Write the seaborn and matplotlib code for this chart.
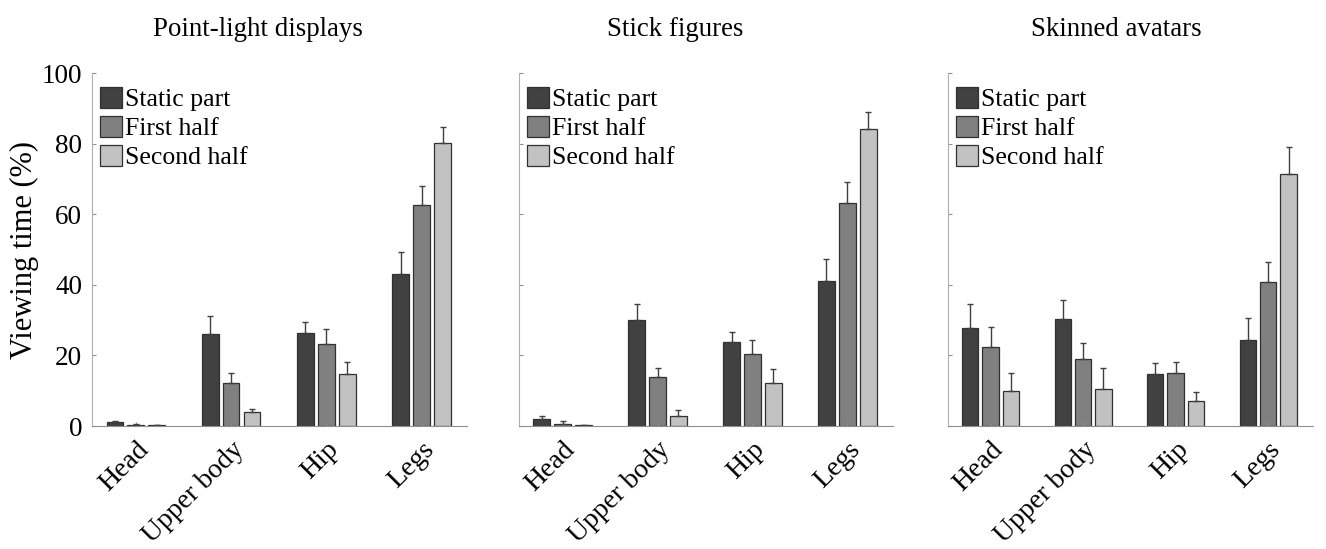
import matplotlib.pyplot as plt
import seaborn as sns
import pandas as pd

panels = ['Point-light displays', 'Stick figures', 'Skinned avatars']
parts = ['Head', 'Upper body', 'Hip', 'Legs']
phases = ['Static part', 'First half', 'Second half']

# mean viewing time (%) per panel, ordered part x phase
means_pld = [[1.1, 0.3, 0.2], [26.2, 12.2, 4.1], [26.4, 23.3, 14.8], [43.0, 62.6, 80.3]]
means_stick = [[2.1, 0.7, 0.2], [29.9, 13.9, 2.9], [23.8, 20.3, 12.2], [41.1, 63.3, 84.0]]
means_avatar = [[27.8, 22.4, 9.8], [30.4, 18.9, 10.5], [14.8, 14.9, 7.1], [24.5, 40.9, 71.5]]

# upper error bar lengths
err_pld = [[0.2, 0.2, 0.1], [4.9, 2.8, 0.8], [3.1, 4.3, 3.4], [6.2, 5.4, 4.3]]
err_stick = [[0.8, 0.6, 0.1], [4.6, 2.6, 1.5], [2.9, 4.1, 4.0], [6.1, 5.9, 5.0]]
err_avatar = [[6.8, 5.6, 5.2], [5.3, 4.6, 6.0], [3.0, 3.2, 2.4], [6.0, 5.7, 7.6]]

colors = ['#414141', '#808080', '#c2c2c2']

plt.rcParams['font.family'] = ['Liberation Serif', 'DejaVu Serif']

fig = plt.figure(figsize=(13.26, 5.49), dpi=100)
ax_pos = [[0.0694, 0.224, 0.283, 0.643],
          [0.3914, 0.224, 0.282, 0.643],
          [0.7149, 0.224, 0.275, 0.643]]
title_x = [0.443, 0.417, 0.463]

all_means = [means_pld, means_stick, means_avatar]
all_errs = [err_pld, err_stick, err_avatar]

for k in range(3):
    rows = []
    for i, part in enumerate(parts):
        for j, ph in enumerate(phases):
            rows.append({'Part': part, 'Phase': ph,
                         'Value': all_means[k][i][j], 'Err': all_errs[k][i][j]})
    df = pd.DataFrame(rows)

    ax = fig.add_axes(ax_pos[k])
    sns.barplot(data=df, x='Part', y='Value', hue='Phase', order=parts,
                hue_order=phases, palette=colors, width=0.66, gap=0.2,
                edgecolor='#303030', linewidth=0.9, errorbar=None, ax=ax)

    # error bars (upper only) placed on the drawn bars
    bars = ax.patches[:12]
    for j, ph in enumerate(phases):
        for i, part in enumerate(parts):
            b = bars[j * 4 + i]
            xc = b.get_x() + b.get_width() / 2
            ax.errorbar(xc, b.get_height(), yerr=[[0], [all_errs[k][i][j]]],
                        fmt='none', ecolor='#404040', elinewidth=1.0,
                        capsize=2.5, capthick=1.0)

    ax.set_xlim(-0.46, 3.48)
    ax.set_ylim(0, 100)
    ax.set_yticks([0, 20, 40, 60, 80, 100])
    ax.set_xlabel('')
    ax.set_ylabel('')
    ax.set_title(panels[k], fontsize=19.4, x=title_x[k], y=1.0, pad=27)
    ax.set_xticks(range(4))
    ax.set_xticklabels(parts, rotation=45, ha='right', rotation_mode='anchor',
                       fontsize=20)
    ax.tick_params(axis='both', direction='in', length=3, color='#909090')
    ax.tick_params(axis='y', labelsize=19.5, pad=7)
    ax.tick_params(axis='x', pad=8)
    if k > 0:
        ax.set_yticklabels([])
    else:
        ax.set_ylabel('Viewing time (%)', fontsize=22, labelpad=2)
    for s in ['top', 'right']:
        ax.spines[s].set_visible(False)
    ax.spines['left'].set_color('#b0b0b0')
    ax.spines['bottom'].set_color('#909090')
    ax.set_facecolor('white')

    leg = ax.legend(loc='upper left', frameon=False, fontsize=18.5,
                    handlelength=0.85, handleheight=0.85, handletextpad=0.1,
                    labelspacing=0.19, borderaxespad=0.3, borderpad=0.25,
                    bbox_to_anchor=(-0.016, 1.0))

fig.savefig('out.png', dpi=100, facecolor='white')
